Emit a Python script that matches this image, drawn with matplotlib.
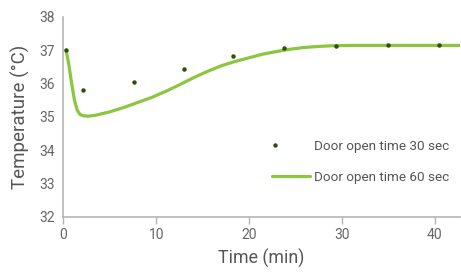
import matplotlib
matplotlib.use("Agg")
import matplotlib.pyplot as plt

# Data
dots_x = [0.3, 2.1, 7.6, 13.0, 18.3, 23.8, 29.4, 34.9, 40.4]
dots_y = [37.01, 35.80, 36.05, 36.42, 36.82, 37.07, 37.13, 37.14, 37.14]
line_x = [0.3, 0.6, 0.9, 1.2, 1.5, 1.8, 2.2, 2.7, 3.5, 5.0, 6.5, 8.0, 9.5, 11.0, 12.5, 14.0,
          15.5, 17.0, 18.5, 20.0, 21.5, 23.0, 24.5, 26.0, 27.5, 29.0, 31.0, 35.0, 42.7]
line_y = [37.0, 36.55, 36.0, 35.5, 35.2, 35.07, 35.03, 35.02, 35.05, 35.15, 35.28, 35.43, 35.58,
          35.76, 35.96, 36.17, 36.36, 36.53, 36.66, 36.77, 36.88, 36.96, 37.03, 37.08, 37.11, 37.13,
          37.14, 37.14, 37.14]
xticks = [0, 10, 20, 30, 40]
yticks = [32, 33, 34, 35, 36, 37, 38]
label_30 = "Door open time 30 sec"
label_60 = "Door open time 60 sec"

plt.rcParams['font.family'] = ['Roboto', 'DejaVu Sans']

fig = plt.figure(figsize=(4.61, 2.74), dpi=100)
ax = fig.add_axes([63.3/461, 1-217/274, (460-63.3)/461, (217-16.7)/274])

ax.plot(dots_x, dots_y, linestyle='none', marker='o', markersize=2.2, color='#2f4d10',
        label=label_30, zorder=3)
ax.plot(line_x, line_y, color='#8cc63f', linewidth=2.3, label=label_60, solid_capstyle='round',
        zorder=2)

ax.set_xlim(0, 42.7)
ax.set_ylim(32, 38)
ax.set_xticks(xticks)
ax.set_yticks(yticks)

for s in ['top', 'right']:
    ax.spines[s].set_visible(False)
for s in ['left', 'bottom']:
    ax.spines[s].set_color('#b5b5b5')
    ax.spines[s].set_linewidth(1.2)

ax.tick_params(axis='x', direction='out', length=5, width=1, color='#b5b5b5',
               labelsize=10, labelcolor='#666666', pad=3)
ax.tick_params(axis='y', length=0, labelsize=10, labelcolor='#666666', pad=6)

ax.set_xlabel("Time (min)", fontsize=12.8, color='#555555', labelpad=5)
ax.set_ylabel("Temperature (°C)", fontsize=13.5, color='#555555', labelpad=7)

leg = ax.legend(loc='upper left', bbox_to_anchor=(0.495, 0.445), frameon=False,
                fontsize=9.7, labelcolor='#555555', handlelength=2.8, handletextpad=0.3,
                labelspacing=1.3, markerscale=1.0)
h = leg.legend_handles[0]
xd = list(h.get_xdata())
h.set_xdata([xd[0], xd[0] + 2, xd[-1]])

fig.savefig("out.png", dpi=100)
